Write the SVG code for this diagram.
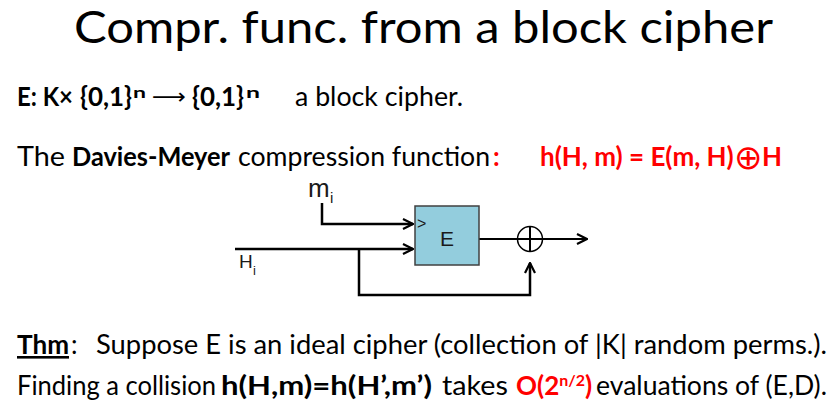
<svg xmlns="http://www.w3.org/2000/svg" width="834" height="415" viewBox="0 0 834 415">
<style>
  .t { font-family: Lato, "Open Sans", sans-serif; font-size: 26px; fill: #000; }
  .b { font-weight: bold; }
  .r { fill: #ff0000; }
  .sup { font-size: 16px; }
  .lbl { font-family: "Liberation Sans", Arial, sans-serif; fill: #1a1a1a; }
  .wire { fill: none; stroke: #000; stroke-width: 2.5; }
</style>
<defs>
  <marker id="arr" viewBox="0 0 12 12" refX="11" refY="6" markerWidth="12" markerHeight="12" markerUnits="userSpaceOnUse" orient="auto">
    <path d="M1,1 L11,6 L1,11" fill="none" stroke="#000" stroke-width="2.2"/>
  </marker>
</defs>
<rect width="834" height="415" fill="#fff"/>

<g id="title">
  <text class="t" x="74" y="43" style="font-size:44px" textLength="699" lengthAdjust="spacingAndGlyphs">Compr. func. from a block cipher</text>
</g>

<g id="line-def">
  <text class="t b" x="17" y="106" textLength="56" lengthAdjust="spacingAndGlyphs">E: K×</text>
  <text class="t b" x="80" y="106" textLength="52" lengthAdjust="spacingAndGlyphs">{0,1}</text>
  <text class="t b sup" x="133" y="98" textLength="13" lengthAdjust="spacingAndGlyphs">n</text>
  <text class="t" x="152" y="104" style="font-family:'DejaVu Sans',sans-serif;font-size:22px" textLength="34" lengthAdjust="spacingAndGlyphs">⟶</text>
  <text class="t b" x="192" y="106" textLength="52" lengthAdjust="spacingAndGlyphs">{0,1}</text>
  <text class="t b sup" x="246" y="98" textLength="14" lengthAdjust="spacingAndGlyphs">n</text>
  <text class="t" x="295" y="106" textLength="168" lengthAdjust="spacingAndGlyphs">a block cipher.</text>
</g>

<g id="line-dm">
  <text class="t" x="17" y="166" textLength="48" lengthAdjust="spacingAndGlyphs">The</text>
  <text class="t b" x="72" y="166" textLength="158" lengthAdjust="spacingAndGlyphs">Davies-Meyer</text>
  <text class="t" x="238" y="166" textLength="252" lengthAdjust="spacingAndGlyphs">compression function</text>
  <text class="t b r" x="493" y="166">:</text>
  <text class="t b r" y="166"><tspan x="540">h(H, m) = E(m, H)</tspan><tspan x="734" dy="3" style="font-family:'DejaVu Sans',sans-serif;font-size:34px;font-weight:200">⊕</tspan><tspan x="762" dy="-3">H</tspan></text>
</g>

<g id="connectors">
  <path class="wire" d="M322,203 V224 H413" marker-end="url(#arr)"/>
  <path class="wire" d="M235,249 H413" marker-end="url(#arr)"/>
  <path class="wire" d="M359,249 V295 H530 V263" marker-end="url(#arr)"/>
  <path class="wire" d="M479,239 H587" style="stroke-width:2" marker-end="url(#arr)"/>
</g>

<g id="node-E">
  <rect x="415" y="206" width="64" height="59" fill="#93cddd" stroke="#404040" stroke-width="1.5"/>
  <text class="lbl" x="417" y="229" style="font-size:16px">&gt;</text>
  <text class="lbl" x="447" y="246" text-anchor="middle" style="font-size:21px">E</text>
</g>

<g id="node-xor">
  <circle cx="530" cy="239" r="12.5" fill="none" stroke="#000" stroke-width="1.5"/>
  <line x1="530" y1="226.5" x2="530" y2="251.5" stroke="#000" stroke-width="2"/>
</g>

<g id="label-m">
  <text class="lbl" x="308" y="197" style="font-size:26px">m</text>
  <text class="lbl" x="330" y="203" style="font-size:15px">i</text>
</g>
<g id="label-H">
  <text class="lbl" x="239" y="268" style="font-size:19px">H</text>
  <text class="lbl" x="253" y="275" style="font-size:13px">i</text>
</g>

<g id="line-thm">
  <text class="t b" x="17" y="354" textLength="52" lengthAdjust="spacingAndGlyphs" text-decoration="underline">Thm</text>
  <text class="t" x="71" y="354">:</text>
  <text class="t" x="96" y="354" textLength="731" lengthAdjust="spacingAndGlyphs">Suppose E is an ideal cipher (collection of |K| random perms.).</text>
</g>

<g id="line-find">
  <text class="t" x="17" y="395" textLength="199" lengthAdjust="spacingAndGlyphs">Finding a collision</text>
  <text class="t b" x="221" y="395" textLength="211" lengthAdjust="spacingAndGlyphs">h(H,m)=h(H’,m’)</text>
  <text class="t" x="442" y="395" textLength="66" lengthAdjust="spacingAndGlyphs">takes</text>
  <text class="t b r" x="516" y="395">O(2<tspan class="sup" dy="-9">n/2</tspan><tspan dy="9">)</tspan></text>
  <text class="t" x="596" y="395" textLength="231" lengthAdjust="spacingAndGlyphs">evaluations of (E,D).</text>
</g>
</svg>
